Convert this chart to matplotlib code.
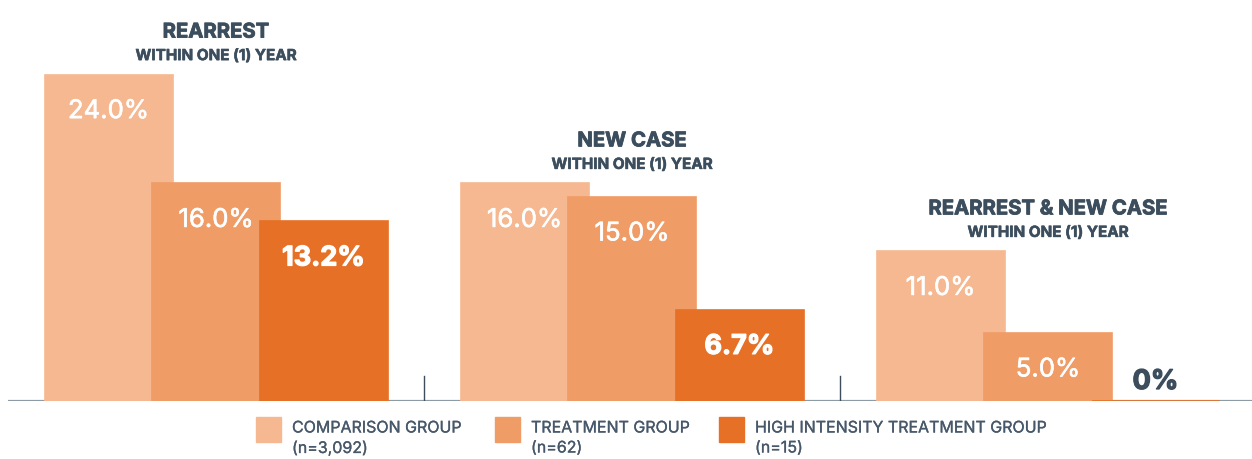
import matplotlib
matplotlib.use("Agg")
import matplotlib.pyplot as plt
from matplotlib.patches import Rectangle
import matplotlib.patheffects as pe

plt.rcParams['font.family'] = ['Inter', 'DejaVu Sans']

# ---- data ----
group_titles = ["REARREST", "NEW CASE", "REARREST & NEW CASE"]
group_subtitles = ["WITHIN ONE (1) YEAR"] * 3
series_names = ["COMPARISON GROUP", "TREATMENT GROUP", "HIGH INTENSITY TREATMENT GROUP"]
series_n = ["(n=3,092)", "(n=62)", "(n=15)"]
comparison = [24.0, 16.0, 11.0]
treatment = [16.0, 15.0, 5.0]
high_intensity = [13.2, 6.7, 0.0]
series_values = [comparison, treatment, high_intensity]

# ---- style ----
colors = ["#F5B891", "#F09C66", "#E67025"]
dark = "#3C4E5D"
legend_text = "#47586A"
base_col = "#8D9BA7"

W, H = 1252, 460
fig = plt.figure(figsize=(W / 100, H / 100), dpi=100)

PX = 13.6            # pixels per percentage point
base_px = 402        # baseline from top
ax = fig.add_axes([0, (H - base_px) / H, 1, base_px / H])
group_px = 416.0
center0 = 216.0
ax.set_xlim(-center0 / group_px, (W - center0) / group_px)
ax.set_ylim(0, base_px / PX)
ax.axis("off")

width = 128 / group_px
offset = 107.5 / group_px
ngroups = len(group_titles)

def stroke(w, c):
    return [pe.withStroke(linewidth=w, foreground=c)]

# baseline
ax.plot([8 / group_px - center0 / group_px, (W - center0) / group_px], [0, 0],
        color=base_col, lw=1.6, zorder=1, solid_capstyle="butt")

# separators
for g in range(ngroups - 1):
    ax.plot([g + 0.5, g + 0.5], [0, 25 / PX], color=dark, lw=1.0, zorder=1)

for i, vals in enumerate(series_values):
    xs = [g + (i - 1) * offset for g in range(ngroups)]
    ax.bar(xs, vals, width=width, color=colors[i], edgecolor=colors[i],
           linewidth=1.2, zorder=2 + i)
    for x, v in zip(xs, vals):
        txt = f"{v:.1f}%" if v else "0%"
        bold = (i == 2)
        col = "white" if v > 0 else dark
        dy = -37 if v > 0 else 19
        ax.annotate(txt, (x, v), xytext=(0, dy * 0.72), textcoords="offset points",
                    ha="center", va="center", color=col,
                    fontsize=19.5 if bold else 18.5,
                    fontweight="bold" if bold else "normal", zorder=10,
                    path_effects=stroke(0.9 if bold else 0.45, col))

# group titles
for g in range(ngroups):
    top = max(s[g] for s in series_values)
    ax.annotate(group_titles[g], (g, top), xytext=(0, 42 * 0.72), textcoords="offset points",
                ha="center", va="center", color=dark, fontsize=14.6, fontweight="bold",
                annotation_clip=False, path_effects=stroke(0.6, dark))
    ax.annotate(group_subtitles[g], (g, top), xytext=(0, 19 * 0.72), textcoords="offset points",
                ha="center", va="center", color=dark, fontsize=11, fontweight="bold",
                annotation_clip=False, path_effects=stroke(0.4, dark))

# legend (manual)
sq_x = [256, 495, 719]
for i in range(3):
    fig.patches.append(Rectangle((sq_x[i] / W, (H - 443) / H), 25 / W, 25 / H,
                                 transform=fig.transFigure, color=colors[i]))
    fig.text((sq_x[i] + 36) / W, (H - 429) / H, series_names[i], ha="left", va="center",
             color=legend_text, fontsize=11.5, path_effects=stroke(0.2, legend_text))
    fig.text((sq_x[i] + 36) / W, (H - 449) / H, series_n[i], ha="left", va="center",
             color=legend_text, fontsize=11.5, path_effects=stroke(0.2, legend_text))

fig.savefig("out.png", dpi=100, facecolor="white")
